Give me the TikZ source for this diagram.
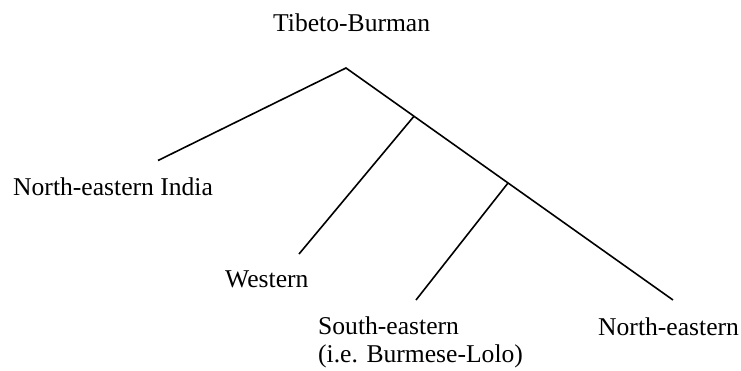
\documentclass[tikz,border=0pt]{standalone}
\usepackage{fontspec}
\setmainfont{Liberation Serif}
\begin{document}
\begin{tikzpicture}[x=1pt,y=-1pt,
  lbl/.style={inner sep=0pt, anchor=base west, font=\fontsize{25.6}{28.5}\selectfont, align=left},
  branch/.style={line width=1.6pt}]
\useasboundingbox (0,0) rectangle (741,370);
% tree joints and leaf ends
\coordinate (root) at (346,68);
\coordinate (j1) at (414,116.2);
\coordinate (j2) at (508,183);
\coordinate (endIndia) at (158,160.5);
\coordinate (endWest) at (299,254);
\coordinate (endSE) at (416,300);
\coordinate (endNE) at (673,300);
% labels (a two-line node sits on the baseline of its last line)
\node[lbl] (top) at (273,31.7) {Tibeto-Burman};
\node[lbl] (india) at (13,195.5) {North-eastern India};
\node[lbl] (west) at (225,287) {Western};
\node[lbl] (se) at (318,362.5) {South-eastern\\(i.e. Burmese-Lolo)};
\node[lbl] (ne) at (598,335) {North-eastern};
% branches
\draw[branch] (endIndia) -- (root) -- (endNE);
\draw[branch] (j1) -- (endWest);
\draw[branch] (j2) -- (endSE);
\end{tikzpicture}
\end{document}
